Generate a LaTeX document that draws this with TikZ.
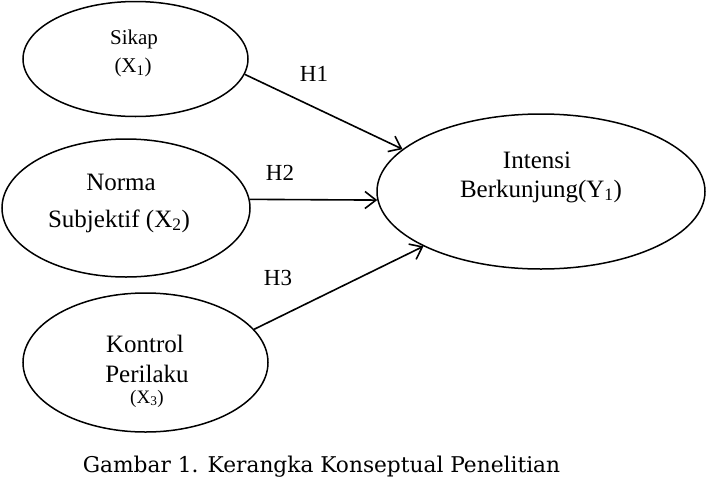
\documentclass[tikz,border=0pt]{standalone}
\usepackage{fontspec}
\setmainfont{Liberation Serif}
\newfontfamily\capfont{DejaVu Serif}
\usetikzlibrary{arrows.meta,shapes.geometric}
\begin{document}
\begin{tikzpicture}[x=1pt,y=-1pt,
  ell/.style={draw, ellipse, line width=1.5pt, inner sep=0pt},
  txt/.style={inner sep=0pt, anchor=base, font=\fontsize{25}{28}\selectfont},
  stxt/.style={inner sep=0pt, anchor=base, font=\fontsize{21}{24}\selectfont},
  hlbl/.style={inner sep=0pt, anchor=base, font=\fontsize{23}{26}\selectfont},
  arr/.style={line width=1.6pt, -{Straight Barb[length=11pt,width=17pt,line width=1.6pt]}},
]
\useasboundingbox (0,0) rectangle (707,485);
% ellipses
\node[ell, minimum width=225pt, minimum height=115pt] (sikap) at (135.5,59) {};
\node[ell, minimum width=248pt, minimum height=138pt] (norma) at (126,208) {};
\node[ell, minimum width=245pt, minimum height=139pt] (kontrol) at (145.5,362.5) {};
\node[ell, minimum width=328pt, minimum height=155pt] (intensi) at (541,191.5) {};
% texts
\node[stxt] (t1a) at (134,44) {Sikap};
\node[stxt] (t1b) at (133,72.5) {(X\textsubscript{1})};
\node[txt] (t2a) at (121,190) {Norma};
\node[txt] (t2b) at (119,227) {Subjektif (X\textsubscript{2})};
\node[txt] (t3a) at (145,352) {Kontrol};
\node[txt] (t3b) at (147,382) {Perilaku};
\node[stxt, font=\fontsize{19}{22}\selectfont] (t3c) at (147,403) {(X\textsubscript{3})};
\node[txt] (t4a) at (537,168) {Intensi};
\node[txt] (t4b) at (541,197) {Berkunjung(Y\textsubscript{1})};
% arrows
\draw[arr] (sikap.-8.3) -- (intensi.163.3);
\draw[arr] (norma.4.2) -- (intensi.183.0);
\draw[arr] (kontrol.17.8) -- (intensi.205.8);
% labels
\node[hlbl] (h1) at (314,81) {H1};
\node[hlbl] (h2) at (280,180) {H2};
\node[hlbl] (h3) at (278,285) {H3};
% caption
\node[inner sep=0pt, anchor=base, font=\capfont\fontsize{21.7}{25}\selectfont] (cap) at (321.5,472) {Gambar 1. Kerangka Konseptual Penelitian};
\end{tikzpicture}
\end{document}
